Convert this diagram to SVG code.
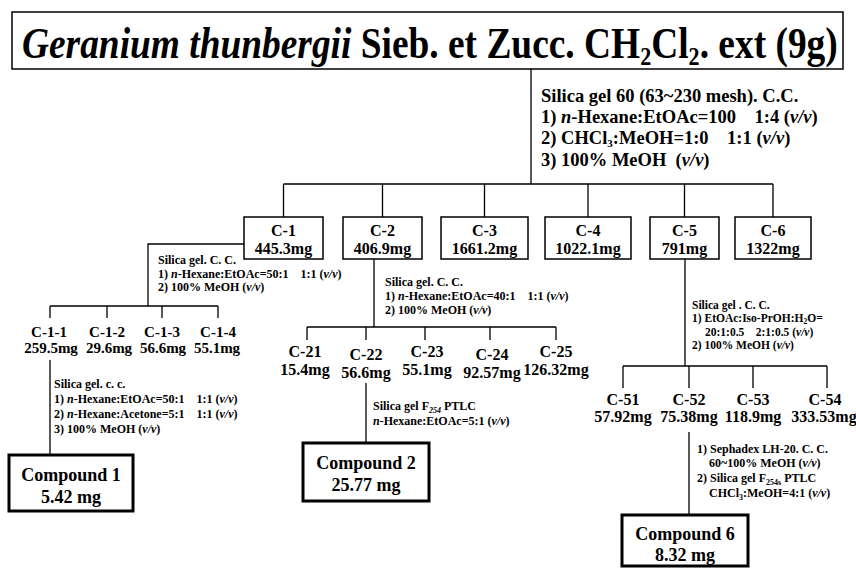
<svg xmlns="http://www.w3.org/2000/svg" width="856" height="569" viewBox="0 0 856 569" font-family="'Liberation Serif','Times New Roman',serif">
<style>
text{font-family:"Liberation Serif","Times New Roman",serif;font-weight:bold;fill:#000}
.box{fill:#fff;stroke:#000;stroke-width:1.5}
.cbox{fill:#fff;stroke:#000;stroke-width:3}
.lbl{font-size:16px;text-anchor:middle}
.lbs{font-size:15px;text-anchor:middle}
.cmp{font-size:18px;text-anchor:middle}
.ann{font-size:12px}
.ans{font-size:11.5px}
.top{font-size:18.5px}
.it{font-style:italic}
#connectors path{fill:none;stroke:#000;stroke-width:1.3}
</style>
<rect width="856" height="569" fill="#fff"/>
<g id="connectors">
<path d="M531,69V184M283.5,184H773M283.5,184V217M382.5,184V217M484.5,184V217M588,184V217M684.5,184V217M773,184V217"/>
<path d="M244,244H148V306M50,306H218M50,306V318M107,306V318M162,306V318M218,306V318"/>
<path d="M50,360V455"/>
<path d="M374,259V327M307,327H556M307,327V340M366,327V340M425,327V340M490,327V340M556,327V340"/>
<path d="M366,383V443"/>
<path d="M685,259V366M623,366H827M623,366V388M689,366V388M753,366V388M827,366V388"/>
<path d="M689,432V515"/>
</g>
<g id="title">
<rect class="box" x="12" y="12" width="831" height="57"/>
<g transform="translate(22,58) scale(0.85,1)">
<text x="0" y="0" font-size="44"><tspan class="it">Geranium thunbergii</tspan> Sieb. et Zucc. CH<tspan dy="7" font-size="26">2</tspan><tspan dy="-7">Cl</tspan><tspan dy="7" font-size="26">2</tspan><tspan dy="-7">. ext (9g)</tspan></text>
</g>
</g>
<g id="ann-top">
<text class="top" x="541" y="102">Silica gel 60 (63~230 mesh). C.C.</text>
<text class="top" x="541" y="123" xml:space="preserve">1) <tspan class="it">n</tspan>-Hexane:EtOAc=100    1:4 (<tspan class="it">v/v</tspan>)</text>
<text class="top" x="541" y="144" xml:space="preserve">2) CHCl<tspan dy="3" font-size="11">3</tspan><tspan dy="-3">:MeOH=1:0    1:1 (</tspan><tspan class="it">v/v</tspan>)</text>
<text class="top" x="541" y="166" xml:space="preserve">3) 100% MeOH  (<tspan class="it">v/v</tspan>)</text>
</g>
<g id="C-1"><rect class="box" x="244" y="217" width="79" height="42"/><text class="lbl" x="283.5" y="236">C-1</text><text class="lbl" x="283.5" y="254">445.3mg</text></g>
<g id="C-2"><rect class="box" x="343" y="217" width="79" height="42"/><text class="lbl" x="382.5" y="236">C-2</text><text class="lbl" x="382.5" y="254">406.9mg</text></g>
<g id="C-3"><rect class="box" x="441" y="217" width="87" height="42"/><text class="lbl" x="484.5" y="236">C-3</text><text class="lbl" x="484.5" y="254">1661.2mg</text></g>
<g id="C-4"><rect class="box" x="545" y="217" width="86" height="42"/><text class="lbl" x="588" y="236">C-4</text><text class="lbl" x="588" y="254">1022.1mg</text></g>
<g id="C-5"><rect class="box" x="650" y="217" width="69" height="42"/><text class="lbl" x="684.5" y="236">C-5</text><text class="lbl" x="684.5" y="254">791mg</text></g>
<g id="C-6"><rect class="box" x="735" y="217" width="76" height="42"/><text class="lbl" x="773" y="236">C-6</text><text class="lbl" x="773" y="254">1322mg</text></g>
<g id="ann-C1">
<text class="ann" x="158" y="264">Silica gel. C. C.</text>
<text class="ann" x="158" y="277.5" xml:space="preserve">1) <tspan class="it">n</tspan>-Hexane:EtOAc=50:1    1:1 (<tspan class="it">v/v</tspan>)</text>
<text class="ann" x="158" y="291">2) 100% MeOH (<tspan class="it">v/v</tspan>)</text>
</g>
<g id="C-1-1"><text class="lbs" x="49" y="337">C-1-1</text><text class="lbs" x="51" y="353">259.5mg</text></g>
<g id="C-1-2"><text class="lbs" x="107" y="337">C-1-2</text><text class="lbs" x="109" y="353">29.6mg</text></g>
<g id="C-1-3"><text class="lbs" x="162" y="337">C-1-3</text><text class="lbs" x="163" y="353">56.6mg</text></g>
<g id="C-1-4"><text class="lbs" x="218" y="337">C-1-4</text><text class="lbs" x="217" y="353">55.1mg</text></g>
<g id="ann-C11">
<text class="ann" x="54" y="388">Silica gel. c. c.</text>
<text class="ann" x="54" y="403" xml:space="preserve">1) <tspan class="it">n</tspan>-Hexane:EtOAc=50:1    1:1 (<tspan class="it">v/v</tspan>)</text>
<text class="ann" x="54" y="418" xml:space="preserve">2) <tspan class="it">n</tspan>-Hexane:Acetone=5:1    1:1 (<tspan class="it">v/v</tspan>)</text>
<text class="ann" x="54" y="433">3) 100% MeOH (<tspan class="it">v/v</tspan>)</text>
</g>
<g id="compound-1"><rect class="cbox" x="9" y="455" width="124" height="56"/><text class="cmp" x="71" y="481">Compound 1</text><text class="cmp" x="71" y="503">5.42 mg</text></g>
<g id="ann-C2">
<text class="ann" x="385" y="286">Silica gel. C. C.</text>
<text class="ann" x="385" y="300" xml:space="preserve">1) <tspan class="it">n</tspan>-Hexane:EtOAc=40:1    1:1 (<tspan class="it">v/v</tspan>)</text>
<text class="ann" x="385" y="314">2) 100% MeOH (<tspan class="it">v/v</tspan>)</text>
</g>
<g id="C-21"><text class="lbl" x="305" y="357">C-21</text><text class="lbl" x="305" y="375">15.4mg</text></g>
<g id="C-22"><text class="lbl" x="366" y="360">C-22</text><text class="lbl" x="366" y="378">56.6mg</text></g>
<g id="C-23"><text class="lbl" x="427" y="357">C-23</text><text class="lbl" x="427" y="375">55.1mg</text></g>
<g id="C-24"><text class="lbl" x="492" y="360">C-24</text><text class="lbl" x="492" y="378">92.57mg</text></g>
<g id="C-25"><text class="lbl" x="556" y="357">C-25</text><text class="lbl" x="556" y="375">126.32mg</text></g>
<g id="ann-C22">
<text class="ann" x="373" y="410">Silica gel F<tspan class="it" dy="3" font-size="8">254</tspan><tspan dy="-3"> PTLC</tspan></text>
<text class="ann" x="373" y="425"><tspan class="it">n</tspan>-Hexane:EtOAc=5:1 (<tspan class="it">v/v</tspan>)</text>
</g>
<g id="compound-2"><rect class="cbox" x="303" y="443" width="126" height="58"/><text class="cmp" x="366" y="469">Compound 2</text><text class="cmp" x="366" y="491">25.77 mg</text></g>
<g id="ann-C5">
<text class="ans" x="692" y="308.5">Silica gel . C. C.</text>
<text class="ans" x="692" y="321.5">1) EtOAc:Iso-PrOH:H<tspan dy="2" font-size="7.5">2</tspan><tspan dy="-2">O=</tspan></text>
<text class="ans" x="705" y="335.5" xml:space="preserve">20:1:0.5    2:1:0.5 (<tspan class="it">v/v</tspan>)</text>
<text class="ans" x="692" y="348.5">2) 100% MeOH (<tspan class="it">v/v</tspan>)</text>
</g>
<g id="C-51"><text class="lbl" x="623" y="405">C-51</text><text class="lbl" x="623" y="422">57.92mg</text></g>
<g id="C-52"><text class="lbl" x="689" y="405">C-52</text><text class="lbl" x="689" y="422">75.38mg</text></g>
<g id="C-53"><text class="lbl" x="753" y="405">C-53</text><text class="lbl" x="753" y="422">118.9mg</text></g>
<g id="C-54"><text class="lbl" x="825" y="405">C-54</text><text class="lbl" x="824" y="422">333.53mg</text></g>
<g id="ann-C52">
<text class="ann" x="697" y="453">1) Sephadex LH-20. C. C.</text>
<text class="ann" x="709" y="467">60~100% MeOH (<tspan class="it">v/v</tspan>)</text>
<text class="ann" x="697" y="482">2) Silica gel F<tspan dy="3" font-size="8">254s</tspan><tspan dy="-3"> PTLC</tspan></text>
<text class="ann" x="709" y="497">CHCl<tspan dy="3" font-size="8">3</tspan><tspan dy="-3">:MeOH=4:1 (</tspan><tspan class="it">v/v</tspan>)</text>
</g>
<g id="compound-6"><rect class="cbox" x="622" y="515" width="126" height="51"/><text class="cmp" x="685" y="540">Compound 6</text><text class="cmp" x="685" y="561">8.32 mg</text></g>
</svg>
